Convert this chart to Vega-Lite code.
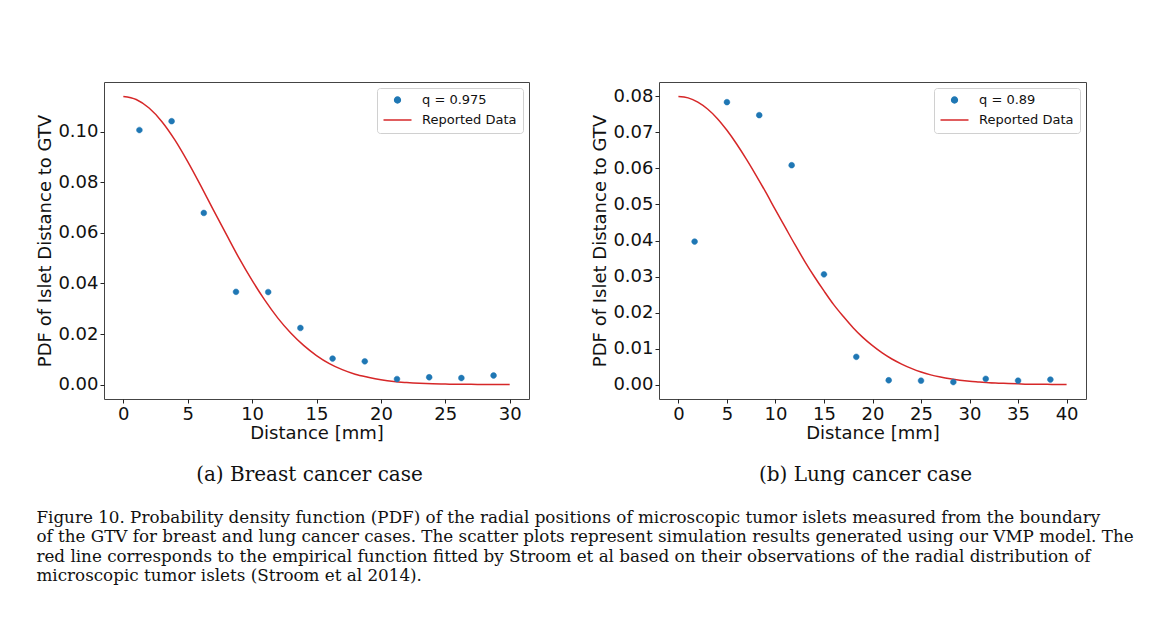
{
  "$schema": "https://vega.github.io/schema/vega-lite/v6.json",
  "background": "white",
  "padding": {"left": 36, "top": 81, "right": 0, "bottom": 0},
  "config": {
    "view": {"stroke": "#444444", "strokeWidth": 1},
    "axis": {"grid": false, "domain": false, "tickColor": "#222222", "tickSize": 4, "labelFont": "DejaVu Sans", "labelFontSize": 18, "labelColor": "#111111", "titleFont": "DejaVu Sans", "titleFontSize": 18, "titleFontWeight": "normal", "titleColor": "#111111", "labelPadding": 2, "labelOverlap": false},
    "axisX": {"titlePadding": 1},
    "axisY": {"titlePadding": 3},
    "legend": {"orient": "top-right", "offset": 6, "padding": 5.5, "rowPadding": 6, "labelFont": "DejaVu Sans", "labelFontSize": 13, "labelColor": "#111111", "strokeColor": "#d0d0d0", "fillColor": "rgba(255,255,255,0.8)", "cornerRadius": 3, "symbolSize": 100, "symbolStrokeWidth": 1.5, "symbolOffset": 8.5, "labelOffset": 18}
  },
  "data": {"values": [
    {"p": "a", "k": "pt", "x": 1.25, "y": 0.1007, "s": "q = 0.975"},
    {"p": "a", "k": "pt", "x": 3.75, "y": 0.1042, "s": "q = 0.975"},
    {"p": "a", "k": "pt", "x": 6.25, "y": 0.0679, "s": "q = 0.975"},
    {"p": "a", "k": "pt", "x": 8.75, "y": 0.0367, "s": "q = 0.975"},
    {"p": "a", "k": "pt", "x": 11.25, "y": 0.0366, "s": "q = 0.975"},
    {"p": "a", "k": "pt", "x": 13.75, "y": 0.0224, "s": "q = 0.975"},
    {"p": "a", "k": "pt", "x": 16.25, "y": 0.0103, "s": "q = 0.975"},
    {"p": "a", "k": "pt", "x": 18.75, "y": 0.0092, "s": "q = 0.975"},
    {"p": "a", "k": "pt", "x": 21.25, "y": 0.0022, "s": "q = 0.975"},
    {"p": "a", "k": "pt", "x": 23.75, "y": 0.0029, "s": "q = 0.975"},
    {"p": "a", "k": "pt", "x": 26.25, "y": 0.0026, "s": "q = 0.975"},
    {"p": "a", "k": "pt", "x": 28.75, "y": 0.0036, "s": "q = 0.975"},
    {"p": "a", "k": "c", "x": 0, "y": 0.1140, "s": "Reported Data"},
    {"p": "a", "k": "c", "x": 1, "y": 0.1128, "s": "Reported Data"},
    {"p": "a", "k": "c", "x": 2, "y": 0.1094, "s": "Reported Data"},
    {"p": "a", "k": "c", "x": 3, "y": 0.1040, "s": "Reported Data"},
    {"p": "a", "k": "c", "x": 4, "y": 0.0968, "s": "Reported Data"},
    {"p": "a", "k": "c", "x": 5, "y": 0.0882, "s": "Reported Data"},
    {"p": "a", "k": "c", "x": 6, "y": 0.0788, "s": "Reported Data"},
    {"p": "a", "k": "c", "x": 7, "y": 0.0690, "s": "Reported Data"},
    {"p": "a", "k": "c", "x": 8, "y": 0.0594, "s": "Reported Data"},
    {"p": "a", "k": "c", "x": 9, "y": 0.0499, "s": "Reported Data"},
    {"p": "a", "k": "c", "x": 10, "y": 0.0412, "s": "Reported Data"},
    {"p": "a", "k": "c", "x": 11, "y": 0.0333, "s": "Reported Data"},
    {"p": "a", "k": "c", "x": 12, "y": 0.0263, "s": "Reported Data"},
    {"p": "a", "k": "c", "x": 13, "y": 0.0204, "s": "Reported Data"},
    {"p": "a", "k": "c", "x": 14, "y": 0.0155, "s": "Reported Data"},
    {"p": "a", "k": "c", "x": 15, "y": 0.0115, "s": "Reported Data"},
    {"p": "a", "k": "c", "x": 16, "y": 0.0083, "s": "Reported Data"},
    {"p": "a", "k": "c", "x": 17, "y": 0.0059, "s": "Reported Data"},
    {"p": "a", "k": "c", "x": 18, "y": 0.0041, "s": "Reported Data"},
    {"p": "a", "k": "c", "x": 19, "y": 0.0029, "s": "Reported Data"},
    {"p": "a", "k": "c", "x": 20, "y": 0.0019, "s": "Reported Data"},
    {"p": "a", "k": "c", "x": 21, "y": 0.0012, "s": "Reported Data"},
    {"p": "a", "k": "c", "x": 22, "y": 0.0008, "s": "Reported Data"},
    {"p": "a", "k": "c", "x": 23, "y": 0.0005, "s": "Reported Data"},
    {"p": "a", "k": "c", "x": 24, "y": 0.0003, "s": "Reported Data"},
    {"p": "a", "k": "c", "x": 25, "y": 0.0002, "s": "Reported Data"},
    {"p": "a", "k": "c", "x": 26, "y": 0.0001, "s": "Reported Data"},
    {"p": "a", "k": "c", "x": 27, "y": 0.0001, "s": "Reported Data"},
    {"p": "a", "k": "c", "x": 28, "y": 0.0000, "s": "Reported Data"},
    {"p": "a", "k": "c", "x": 29, "y": 0.0000, "s": "Reported Data"},
    {"p": "a", "k": "c", "x": 30, "y": 0.0000, "s": "Reported Data"},
    {"p": "b", "k": "pt", "x": 1.67, "y": 0.0397, "s": "q = 0.89"},
    {"p": "b", "k": "pt", "x": 5.0, "y": 0.0784, "s": "q = 0.89"},
    {"p": "b", "k": "pt", "x": 8.33, "y": 0.0748, "s": "q = 0.89"},
    {"p": "b", "k": "pt", "x": 11.67, "y": 0.0609, "s": "q = 0.89"},
    {"p": "b", "k": "pt", "x": 15.0, "y": 0.0306, "s": "q = 0.89"},
    {"p": "b", "k": "pt", "x": 18.33, "y": 0.0077, "s": "q = 0.89"},
    {"p": "b", "k": "pt", "x": 21.67, "y": 0.0012, "s": "q = 0.89"},
    {"p": "b", "k": "pt", "x": 25.0, "y": 0.0011, "s": "q = 0.89"},
    {"p": "b", "k": "pt", "x": 28.33, "y": 0.0007, "s": "q = 0.89"},
    {"p": "b", "k": "pt", "x": 31.67, "y": 0.0016, "s": "q = 0.89"},
    {"p": "b", "k": "pt", "x": 35.0, "y": 0.0011, "s": "q = 0.89"},
    {"p": "b", "k": "pt", "x": 38.33, "y": 0.0014, "s": "q = 0.89"},
    {"p": "b", "k": "c", "x": 0, "y": 0.0800, "s": "Reported Data"},
    {"p": "b", "k": "c", "x": 1, "y": 0.0796, "s": "Reported Data"},
    {"p": "b", "k": "c", "x": 2, "y": 0.0784, "s": "Reported Data"},
    {"p": "b", "k": "c", "x": 3, "y": 0.0765, "s": "Reported Data"},
    {"p": "b", "k": "c", "x": 4, "y": 0.0739, "s": "Reported Data"},
    {"p": "b", "k": "c", "x": 5, "y": 0.0706, "s": "Reported Data"},
    {"p": "b", "k": "c", "x": 6, "y": 0.0668, "s": "Reported Data"},
    {"p": "b", "k": "c", "x": 7, "y": 0.0626, "s": "Reported Data"},
    {"p": "b", "k": "c", "x": 8, "y": 0.0581, "s": "Reported Data"},
    {"p": "b", "k": "c", "x": 9, "y": 0.0534, "s": "Reported Data"},
    {"p": "b", "k": "c", "x": 10, "y": 0.0485, "s": "Reported Data"},
    {"p": "b", "k": "c", "x": 11, "y": 0.0437, "s": "Reported Data"},
    {"p": "b", "k": "c", "x": 12, "y": 0.0389, "s": "Reported Data"},
    {"p": "b", "k": "c", "x": 13, "y": 0.0343, "s": "Reported Data"},
    {"p": "b", "k": "c", "x": 14, "y": 0.0300, "s": "Reported Data"},
    {"p": "b", "k": "c", "x": 15, "y": 0.0260, "s": "Reported Data"},
    {"p": "b", "k": "c", "x": 16, "y": 0.0222, "s": "Reported Data"},
    {"p": "b", "k": "c", "x": 17, "y": 0.0189, "s": "Reported Data"},
    {"p": "b", "k": "c", "x": 18, "y": 0.0158, "s": "Reported Data"},
    {"p": "b", "k": "c", "x": 19, "y": 0.0131, "s": "Reported Data"},
    {"p": "b", "k": "c", "x": 20, "y": 0.0108, "s": "Reported Data"},
    {"p": "b", "k": "c", "x": 21, "y": 0.0088, "s": "Reported Data"},
    {"p": "b", "k": "c", "x": 22, "y": 0.0071, "s": "Reported Data"},
    {"p": "b", "k": "c", "x": 23, "y": 0.0057, "s": "Reported Data"},
    {"p": "b", "k": "c", "x": 24, "y": 0.0045, "s": "Reported Data"},
    {"p": "b", "k": "c", "x": 25, "y": 0.0035, "s": "Reported Data"},
    {"p": "b", "k": "c", "x": 26, "y": 0.0027, "s": "Reported Data"},
    {"p": "b", "k": "c", "x": 27, "y": 0.0021, "s": "Reported Data"},
    {"p": "b", "k": "c", "x": 28, "y": 0.0016, "s": "Reported Data"},
    {"p": "b", "k": "c", "x": 29, "y": 0.0012, "s": "Reported Data"},
    {"p": "b", "k": "c", "x": 30, "y": 0.0009, "s": "Reported Data"},
    {"p": "b", "k": "c", "x": 31, "y": 0.0007, "s": "Reported Data"},
    {"p": "b", "k": "c", "x": 32, "y": 0.0005, "s": "Reported Data"},
    {"p": "b", "k": "c", "x": 33, "y": 0.0004, "s": "Reported Data"},
    {"p": "b", "k": "c", "x": 34, "y": 0.0003, "s": "Reported Data"},
    {"p": "b", "k": "c", "x": 35, "y": 0.0002, "s": "Reported Data"},
    {"p": "b", "k": "c", "x": 36, "y": 0.0001, "s": "Reported Data"},
    {"p": "b", "k": "c", "x": 37, "y": 0.0001, "s": "Reported Data"},
    {"p": "b", "k": "c", "x": 38, "y": 0.0001, "s": "Reported Data"},
    {"p": "b", "k": "c", "x": 39, "y": 0.0000, "s": "Reported Data"},
    {"p": "b", "k": "c", "x": 40, "y": 0.0000, "s": "Reported Data"}
  ]},
  "spacing": 61,
  "resolve": {
    "scale": {"fill": "independent", "stroke": "independent", "shape": "independent"},
    "legend": {"fill": "independent", "stroke": "independent", "shape": "independent"}
  },
  "title": {
    "text": [
      "Figure 10. Probability density function (PDF) of the radial positions of microscopic tumor islets measured from the boundary",
      "of the GTV for breast and lung cancer cases. The scatter plots represent simulation results generated using our VMP model. The",
      "red line corresponds to the empirical function fitted by Stroom et al based on their observations of the radial distribution of",
      "microscopic tumor islets (Stroom et al 2014)."
    ],
    "orient": "bottom", "anchor": "start", "frame": "bounds", "dx": 0,
    "font": "DejaVu Serif", "fontSize": 16.75, "fontWeight": "normal", "color": "#111111",
    "lineHeight": 19.6, "offset": 24
  },
  "hconcat": [
    {
      "width": 425, "height": 317,
      "title": {"text": "(a) Breast cancer case", "orient": "bottom", "frame": "group", "dx": -7, "font": "DejaVu Serif", "fontSize": 20, "fontWeight": "normal", "color": "#111111", "offset": 23},
      "transform": [{"filter": "datum.p === 'a'"}],
      "encoding": {
        "x": {"field": "x", "type": "quantitative", "scale": {"domain": [-1.5, 31.5], "nice": false, "zero": false}, "axis": {"values": [0, 5, 10, 15, 20, 25, 30], "title": "Distance [mm]"}},
        "y": {"field": "y", "type": "quantitative", "scale": {"domain": [-0.0057, 0.1197], "nice": false, "zero": false}, "axis": {"values": [0, 0.02, 0.04, 0.06, 0.08, 0.1], "format": ".2f", "title": "PDF of Islet Distance to GTV"}}
      },
      "layer": [
        {
          "transform": [{"filter": "datum.k === 'c'"}],
          "mark": {"type": "line", "strokeWidth": 1.5, "interpolate": "monotone"},
          "encoding": {
            "stroke": {"field": "s", "type": "nominal", "scale": {"domain": ["q = 0.975", "Reported Data"], "range": ["#1f77b4", "#d62728"]}, "legend": {"title": null}}
          }
        },
        {
          "transform": [{"filter": "datum.k === 'pt'"}],
          "mark": {"type": "point", "filled": true, "size": 100, "opacity": 1, "strokeWidth": 0.5},
          "encoding": {
            "fill": {"field": "s", "type": "nominal", "scale": {"domain": ["q = 0.975", "Reported Data"], "range": ["#1f77b4", "#d62728"]}, "legend": {"title": null}},
            "stroke": {"field": "s", "type": "nominal", "legend": {"title": null}},
            "shape": {"field": "s", "type": "nominal", "scale": {"domain": ["q = 0.975", "Reported Data"], "range": ["M0.58,0A0.58,0.58,0,1,1,-0.58,0A0.58,0.58,0,1,1,0.58,0Z", "M-2.8,0H2.8"]}, "legend": {"title": null}}
          }
        }
      ]
    },
    {
      "width": 427, "height": 317,
      "title": {"text": "(b) Lung cancer case", "orient": "bottom", "frame": "group", "dx": -7, "font": "DejaVu Serif", "fontSize": 20, "fontWeight": "normal", "color": "#111111", "offset": 23},
      "transform": [{"filter": "datum.p === 'b'"}],
      "encoding": {
        "x": {"field": "x", "type": "quantitative", "scale": {"domain": [-2, 42], "nice": false, "zero": false}, "axis": {"values": [0, 5, 10, 15, 20, 25, 30, 35, 40], "title": "Distance [mm]"}},
        "y": {"field": "y", "type": "quantitative", "scale": {"domain": [-0.004, 0.084], "nice": false, "zero": false}, "axis": {"values": [0, 0.01, 0.02, 0.03, 0.04, 0.05, 0.06, 0.07, 0.08], "format": ".2f", "title": "PDF of Islet Distance to GTV"}}
      },
      "layer": [
        {
          "transform": [{"filter": "datum.k === 'c'"}],
          "mark": {"type": "line", "strokeWidth": 1.5, "interpolate": "monotone"},
          "encoding": {
            "stroke": {"field": "s", "type": "nominal", "scale": {"domain": ["q = 0.89", "Reported Data"], "range": ["#1f77b4", "#d62728"]}, "legend": {"title": null}}
          }
        },
        {
          "transform": [{"filter": "datum.k === 'pt'"}],
          "mark": {"type": "point", "filled": true, "size": 100, "opacity": 1, "strokeWidth": 0.5},
          "encoding": {
            "fill": {"field": "s", "type": "nominal", "scale": {"domain": ["q = 0.89", "Reported Data"], "range": ["#1f77b4", "#d62728"]}, "legend": {"title": null}},
            "stroke": {"field": "s", "type": "nominal", "legend": {"title": null}},
            "shape": {"field": "s", "type": "nominal", "scale": {"domain": ["q = 0.89", "Reported Data"], "range": ["M0.58,0A0.58,0.58,0,1,1,-0.58,0A0.58,0.58,0,1,1,0.58,0Z", "M-2.8,0H2.8"]}, "legend": {"title": null}}
          }
        }
      ]
    }
  ]
}
